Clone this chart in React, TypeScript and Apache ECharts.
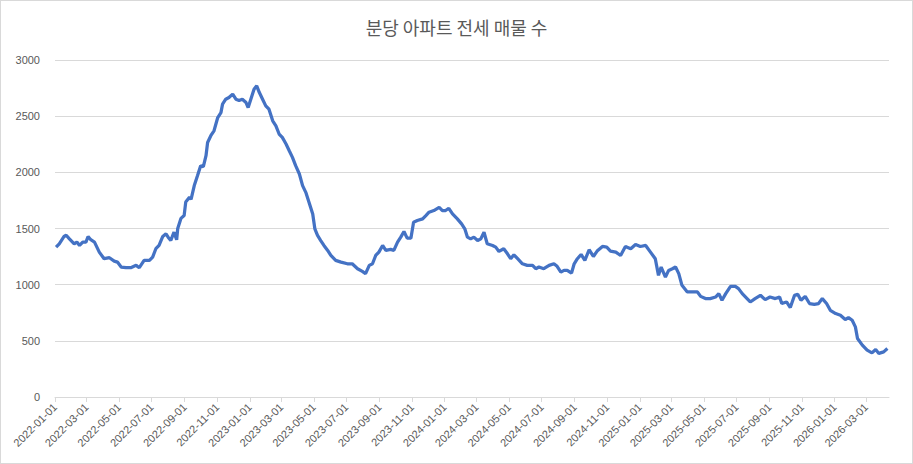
import React, { useEffect, useRef } from "react";
import * as echarts from "echarts";

const TITLE = "분당 아파트 전세 매물 수";
const START_DATE = "2022-01-01";
const END_DATE = "2026-04-13";
const Y_TICKS = [0, 500, 1000, 1500, 2000, 2500, 3000];

// days since 2022-01-01 at which values were read
const sampleDays = [
  2, 8, 17, 21, 27, 36, 41, 46, 52, 58, 62, 67, 74, 83, 92, 102, 111, 117, 124, 133,
  142, 152, 158, 167, 177, 183, 189, 195, 202, 208, 212, 217, 223, 228, 230, 236, 242, 245, 252, 255,
  261, 267, 273, 278, 283, 286, 292, 298, 305, 311, 314, 320, 326, 333, 339, 345, 351, 358, 362, 367,
  373, 378, 383, 389, 395, 401, 408, 414, 420, 426, 433, 439, 445, 451, 458, 464, 470, 476, 483, 487,
  492, 498, 504, 511, 517, 526, 536, 548, 557, 567, 576, 582, 589, 595, 601, 607, 614, 620, 629, 635,
  642, 648, 654, 660, 667, 672, 679, 689, 695, 701, 710, 720, 726, 732, 738, 745, 754, 762, 768, 773,
  779, 785, 792, 798, 804, 810, 820, 826, 832, 841, 848, 854, 860, 867, 876, 885, 895, 901, 907, 916,
  926, 935, 941, 948, 954, 960, 968, 973, 979, 986, 993, 1001, 1009, 1016, 1026, 1034, 1041, 1051, 1060, 1069,
  1079, 1088, 1097, 1107, 1116, 1125, 1131, 1136, 1144, 1150, 1157, 1163, 1169, 1175, 1185, 1194, 1204, 1210, 1219, 1228,
  1238, 1244, 1250, 1257, 1266, 1275, 1281, 1288, 1297, 1303, 1312, 1322, 1331, 1340, 1350, 1358, 1362, 1371, 1378, 1386,
  1392, 1398, 1406, 1414, 1423, 1431, 1438, 1446, 1453, 1463, 1472, 1481, 1487, 1494, 1500, 1504, 1513, 1522, 1531, 1538,
  1544, 1553, 1560,
];

const listings = [
  1334, 1364, 1429, 1440, 1408, 1364, 1380, 1349, 1379, 1379, 1429, 1400, 1379, 1290, 1231, 1240, 1210, 1201, 1157, 1151,
  1151, 1172, 1151, 1216, 1216, 1245, 1320, 1349, 1429, 1453, 1423, 1393, 1467, 1400, 1500, 1590, 1615, 1735, 1778, 1760,
  1882, 1970, 2059, 2050, 2148, 2266, 2326, 2370, 2488, 2532, 2607, 2651, 2666, 2696, 2651, 2640, 2651, 2621, 2577, 2651,
  2740, 2770, 2710, 2651, 2592, 2562, 2459, 2414, 2341, 2311, 2252, 2192, 2133, 2059, 1985, 1882, 1822, 1734, 1630, 1497,
  1438, 1393, 1349, 1305, 1260, 1216, 1201, 1186, 1186, 1142, 1118, 1098, 1172, 1186, 1260, 1290, 1349, 1305, 1314, 1305,
  1379, 1423, 1473, 1414, 1414, 1556, 1571, 1586, 1615, 1645, 1660, 1689, 1660, 1660, 1680, 1630, 1586, 1541, 1497, 1423,
  1408, 1423, 1393, 1408, 1467, 1364, 1349, 1334, 1296, 1320, 1275, 1231, 1266, 1231, 1186, 1172, 1172, 1142, 1157, 1142,
  1172, 1186, 1163, 1112, 1127, 1127, 1103, 1186, 1231, 1269, 1216, 1311, 1251, 1299, 1340, 1334, 1299, 1290, 1260, 1340,
  1320, 1358, 1340, 1349, 1290, 1231, 1083, 1157, 1068, 1127, 1142, 1157, 1098, 994, 935, 935, 935, 896, 876, 876,
  890, 920, 861, 920, 985, 985, 965, 920, 876, 846, 876, 905, 867, 890, 876, 890, 832, 846, 796, 905,
  914, 861, 896, 832, 825, 832, 876, 832, 772, 743, 728, 690, 707, 683, 624, 521, 462, 417, 393, 423,
  388, 402, 432,
];

function buildDays(start: string, end: string): string[] {
  const out: string[] = [];
  const t0 = Date.parse(start + "T00:00:00Z");
  const t1 = Date.parse(end + "T00:00:00Z");
  for (let t = t0; t <= t1; t += 86400000) {
    out.push(new Date(t).toISOString().slice(0, 10));
  }
  return out;
}

const isLabelDay = (_i: number, v: string) =>
  v.slice(8, 10) === "01" && parseInt(v.slice(5, 7), 10) % 2 === 1;

export default function App() {
  const ref = useRef<HTMLDivElement>(null);
  useEffect(() => {
    document.body.style.margin = "0";
    if (!ref.current) return;
    const chart = echarts.init(ref.current, undefined, { renderer: "svg" });
    const days = buildDays(START_DATE, END_DATE);
    const data = sampleDays.map((d, i) => [days[d], listings[i]]);
    chart.setOption({
      animation: false,
      backgroundColor: "#ffffff",
      title: {
        text: TITLE,
        left: "center",
        top: 12,
        textStyle: {
          fontFamily: "Noto Sans CJK KR",
          fontSize: 18,
          fontWeight: "normal",
          color: "#595959",
        },
      },
      grid: { left: 54, right: 23, top: 59, bottom: 66, containLabel: false },
      xAxis: {
        type: "category",
        data: days,
        boundaryGap: false,
        axisLine: { lineStyle: { color: "#d9d9d9" } },
        axisTick: {
          interval: isLabelDay,
          length: 5,
          lineStyle: { color: "#d9d9d9" },
        },
        axisLabel: {
          interval: isLabelDay,
          rotate: 45,
          margin: 8,
          color: "#595959",
          fontSize: 11,
          fontFamily: "Liberation Sans",
        },
        splitLine: { show: false },
      },
      yAxis: {
        type: "value",
        min: Y_TICKS[0],
        max: Y_TICKS[Y_TICKS.length - 1],
        interval: 500,
        axisLine: { show: false },
        axisTick: { show: false },
        axisLabel: {
          color: "#595959",
          fontSize: 11,
          margin: 15,
          fontFamily: "Liberation Sans",
          formatter: (v: number) => String(v),
        },
        splitLine: { lineStyle: { color: "#d9d9d9" } },
      },
      series: [
        {
          type: "line",
          data,
          showSymbol: false,
          lineStyle: { color: "#4472C4", width: 3.25 },
          itemStyle: { color: "#4472C4" },
        },
      ],
    });
    return () => chart.dispose();
  }, []);
  return (
    <div
      ref={ref}
      style={{
        width: 913,
        height: 464,
        boxSizing: "border-box",
        border: "1px solid #d9d9d9",
      }}
    />
  );
}
